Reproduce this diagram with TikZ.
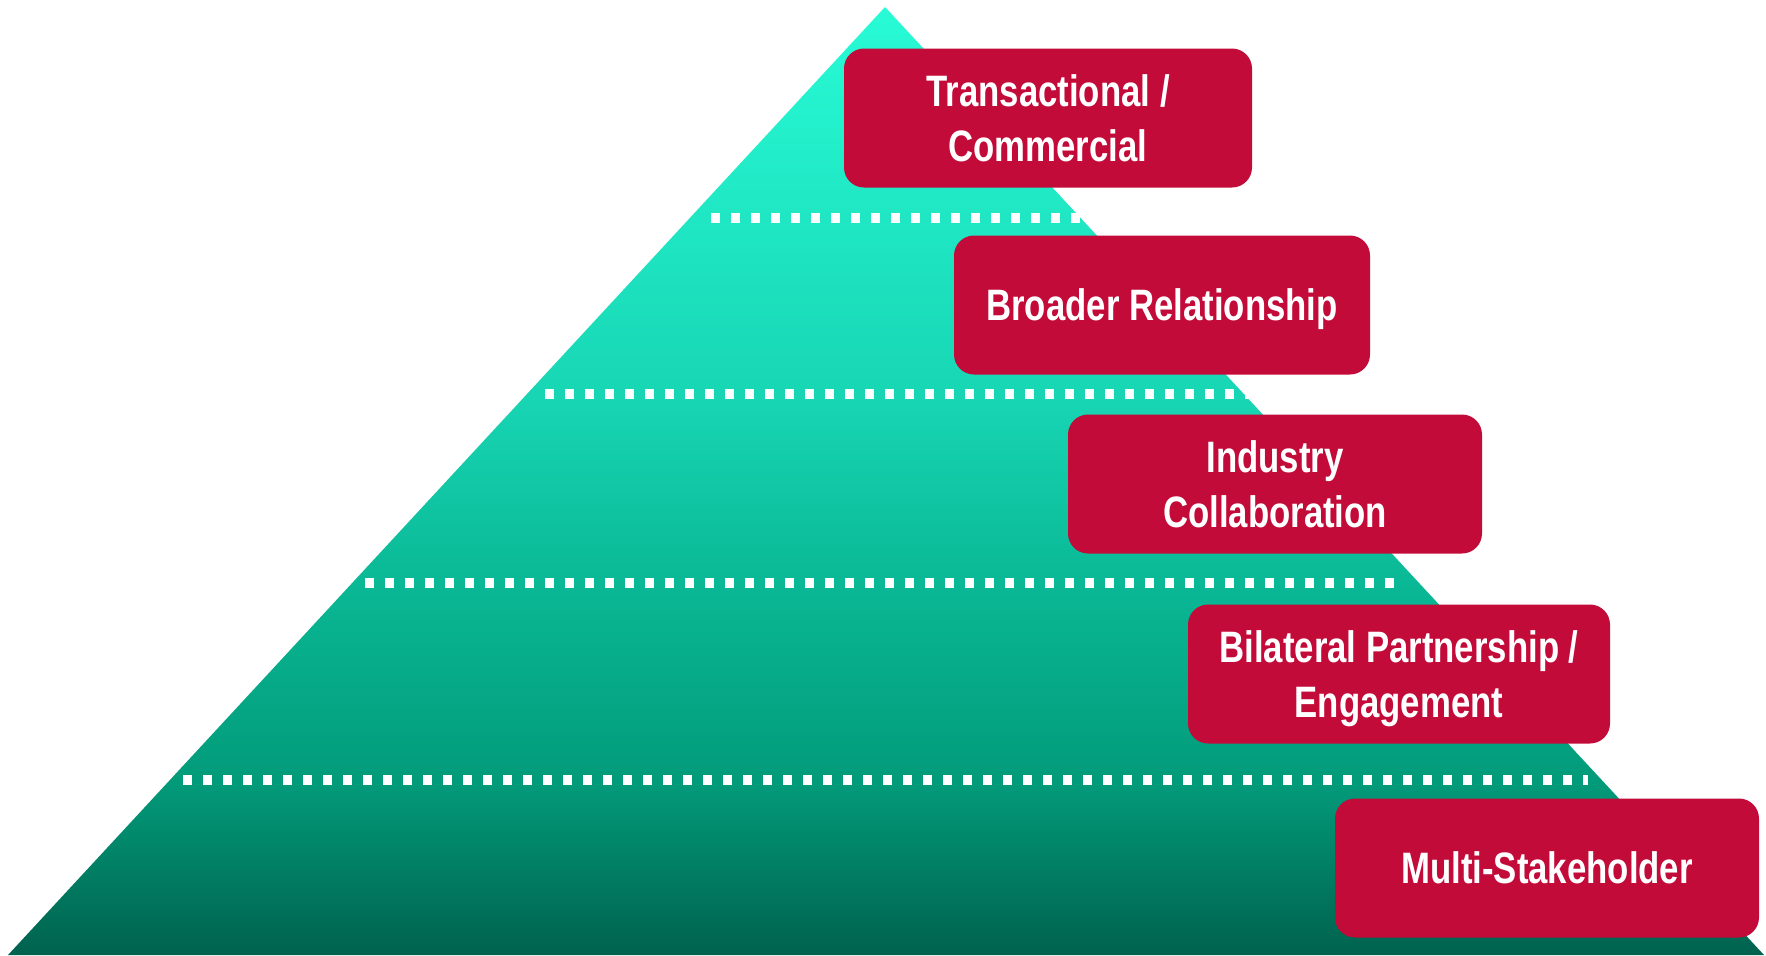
\documentclass[tikz,border=0pt]{standalone}
\usepackage{fontspec}
\setmainfont{Liberation Sans}[FakeStretch=0.79]
\definecolor{pyrtop}{RGB}{40,251,214}
\definecolor{pyrup}{RGB}{24,214,180}
\definecolor{pyrmid}{RGB}{10,184,149}
\definecolor{pyrlow}{RGB}{2,155,122}
\definecolor{pyrbot}{RGB}{0,98,78}
\definecolor{boxred}{RGB}{195,11,58}
\pgfdeclareverticalshading{pyramid}{100bp}{color(0bp)=(pyrbot); color(25bp)=(pyrbot);
  color(34.2bp)=(pyrlow); color(44.6bp)=(pyrmid); color(54.6bp)=(pyrup);
  color(75bp)=(pyrtop); color(100bp)=(pyrtop)}

\begin{document}
\begin{tikzpicture}[x=0.5pt, y=-0.5pt,
    level/.style={fill=boxred, rounded corners=10pt, text=white, align=center,
      font=\fontsize{22}{27.5}\selectfont\bfseries, text depth=0pt,
      minimum height=69.5pt, inner sep=0pt},
    dots/.style={draw=white, line width=5pt, dash pattern=on 4.5pt off 5.5pt}]
  \useasboundingbox (0,0) rectangle (1766,955);
  % pyramid
  \shade[shading=pyramid] (885,7) -- (1764,955) -- (8,955) -- cycle;
  % dotted separators
  \draw[dots] (711,218) -- (1082,218);
  \draw[dots] (545,394) -- (1249,394);
  \draw[dots] (365,583) -- (1404,583);
  \draw[dots] (183,780) -- (1588,780);
  % levels
  \node[level, minimum width=204pt] (tcom) at (1048,118) {Transactional /\\Commercial};
  \node[level, minimum width=208pt] (broad) at (1162,305) {Broader Relationship};
  \node[level, minimum width=207pt] (indus) at (1275,484) {Industry\\Collaboration};
  \node[level, minimum width=211pt] (bilat) at (1399,674) {Bilateral Partnership /\\Engagement};
  \node[level, minimum width=212pt] (multi) at (1547,868) {Multi-Stakeholder};
\end{tikzpicture}
\end{document}
